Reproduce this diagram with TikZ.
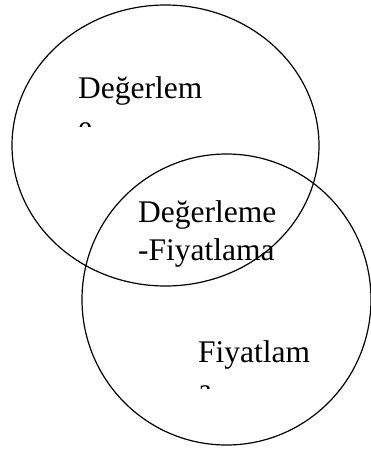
\documentclass[tikz,border=0pt]{standalone}
\usepackage{fontspec}
\setmainfont{Liberation Serif}

\begin{document}
\begin{tikzpicture}[x=1pt, y=-1pt,
  venn/.style={black, line width=1.2pt},
  word/.style={anchor=base west, inner sep=0pt, font=\fontsize{31.5}{38}\selectfont}]
\useasboundingbox (0,0) rectangle (371,450);

% Draw the two sets
\draw[venn] (165.5,145.5) ellipse [x radius=153.5, y radius=140.5];
\draw[venn] (226.5,299.5) ellipse [x radius=144.5, y radius=145.5];

% Label the sets and the overlap
\node[word] (deg) at (78,98) {Değerlem};
\begin{scope}
  \clip (70,100) rectangle (110,126);
  \node[word] (degend) at (78,137) {e};
\end{scope}
\node[word] (both) at (138,222) {Değerleme};
\node[word] (bothend) at (138,260) {-Fiyatlama};
\node[word] (fiy) at (198,362) {Fiyatlam};
\begin{scope}
  \clip (190,365) rectangle (230,388);
  \node[word] (fiyend) at (198,400) {a};
\end{scope}
\end{tikzpicture}
\end{document}
